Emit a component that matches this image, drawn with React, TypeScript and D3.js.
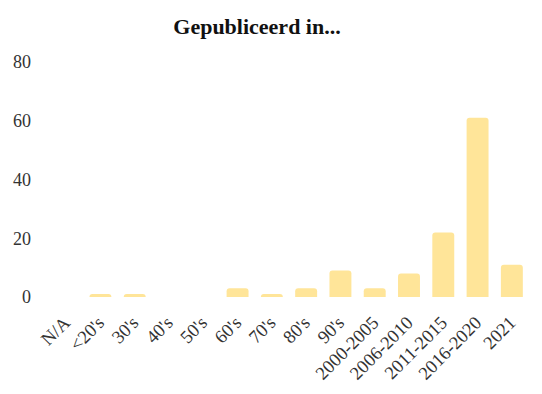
import React from 'react';
import * as d3 from 'd3';

const categories = ['N/A', "<20's", "30's", "40's", "50's", "60's", "70's", "80's", "90's", '2000-2005', '2006-2010', '2011-2015', '2016-2020', '2021'];
const counts = [0, 1, 1, 0, 0, 3, 1, 3, 9, 3, 8, 22, 61, 11];
const yTicks = [0, 20, 40, 60, 80];

const width = 542;
const height = 394;
const fontFamily = '"Liberation Serif", "DejaVu Serif", serif';
const barColor = '#ffe599';

const App: React.FC = () => {
  const x = d3.scaleBand<string>().domain(categories).range([49, 529]).paddingInner(0.36).paddingOuter(0.18);
  const y = d3.scaleLinear().domain([0, 80]).range([297, 62]);
  const bw = x.bandwidth();

  return (
    <svg width={width} height={height} style={{ position: 'absolute', left: 0, top: 0, fontFamily }}>
      <text x={257} y={34} textAnchor="middle" fontWeight="bold" fontSize={22} fill="#111">
        Gepubliceerd in...
      </text>

      {/* y axis labels, no line */}
      {yTicks.map(t => (
        <text key={t} x={31} y={y(t)} dy="0.35em" textAnchor="end" fontSize={18} fill="#333">
          {t}
        </text>
      ))}

      {/* bars with rounded top corners */}
      {categories.map((c, i) => {
        const v = counts[i];
        if (!v) return null;
        const x0 = x(c)!;
        const y0 = y(v);
        const h = y(0) - y0;
        const r = Math.min(3, h);
        return (
          <path
            key={c}
            fill={barColor}
            d={`M${x0},${y(0)} V${y0 + r} Q${x0},${y0} ${x0 + r},${y0} H${x0 + bw - r} Q${x0 + bw},${y0} ${x0 + bw},${y0 + r} V${y(0)} Z`}
          />
        );
      })}

      {/* x labels rotated */}
      {categories.map(c => {
        const cx = x(c)! + bw / 2;
        return (
          <text
            key={c}
            transform={`translate(${cx + 5},${324}) rotate(-45)`}
            textAnchor="end"
            fontSize={18.5}
            fill="#333"
          >
            {c}
          </text>
        );
      })}
    </svg>
  );
};

export default App;
